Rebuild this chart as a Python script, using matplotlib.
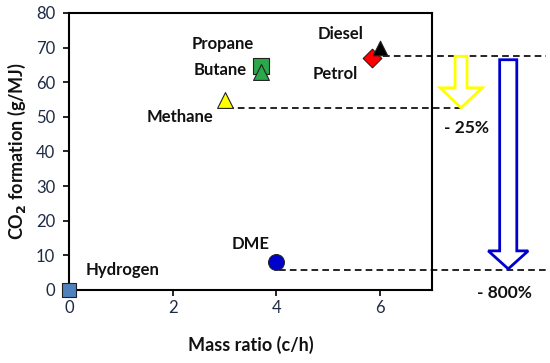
import matplotlib
matplotlib.use("Agg")
import matplotlib.pyplot as plt
from matplotlib.patches import FancyArrow

plt.rcParams['font.family'] = ['Lato', 'DejaVu Sans']

names = ['Hydrogen', 'DME', 'Methane', 'Propane', 'Butane', 'Petrol', 'Diesel']
mass_ratio = [0.0, 4.0, 3.0, 3.7, 3.7, 5.85, 6.0]
co2 = [0.0, 8.0, 54.8, 64.7, 63.0, 67.0, 69.8]
markers = ['s', 'o', '^', 's', '^', 'D', '^']
colors = ['#4f81bd', '#0000cc', '#ffff00', '#2aa84a', '#2aa84a', '#ff0000', '#000000']
sizes = [110, 130, 130, 130, 130, 90, 110]
label_pos = [(0.33, 5.8), (3.13, 13.3), (1.5, 50.0), (2.37, 71.1), (2.4, 63.6), (4.69, 62.4), (4.79, 74.0)]

ref_levels = [67.5, 52.6, 5.8]
ref_starts = [6.05, 3.05, 4.05]
ref_ends = [9.2, 7.6, 9.25]

fig = plt.figure(figsize=(5.5, 3.63), dpi=100)
ax = fig.add_axes([69/550, 1-290/363, (432-69)/550, (290-13)/363])
ax.set_xlim(0, 7)
ax.set_ylim(0, 80)

for y0, xs, xe in zip(ref_levels, ref_starts, ref_ends):
    ax.plot([xs, xe], [y0, y0], ls=(0, (4, 2.5)), color='black', lw=1.2, clip_on=False, zorder=2)

for n, x, y, m, c, s, lp in zip(names, mass_ratio, co2, markers, colors, sizes, label_pos):
    ax.scatter([x], [y], marker=m, s=s, color=c, edgecolor='#222222', linewidth=0.8, clip_on=False, zorder=5)
    ax.text(lp[0], lp[1], n, fontsize=12, fontweight='bold', color='#111111', ha='left', va='center')

# hollow arrows
ya = FancyArrow(7.56, 67.5, 0, -(67.5 - 52.6), width=0.23, head_width=0.81,
                head_length=5.8, length_includes_head=True, facecolor='white', edgecolor='#ffff00',
                linewidth=2.0, clip_on=False, zorder=4)
ax.add_patch(ya)
ba = FancyArrow(8.47, 66.5, 0, -(66.5 - 6.1), width=0.33, head_width=0.77,
                head_length=5.2, length_includes_head=True, facecolor='white', edgecolor='#0000cc',
                linewidth=2.0, clip_on=False, zorder=4)
ax.add_patch(ba)

ax.text(7.23, 46.8, '- 25%', fontsize=12.5, fontweight='bold', color='#111111', ha='left', va='center')
ax.text(7.87, -0.9, '- 800%', fontsize=12.5, fontweight='bold', color='#111111', ha='left', va='center')

ax.set_xticks([0, 2, 4, 6])
ax.set_yticks(range(0, 81, 10))
ax.tick_params(direction='out', length=4, width=1.2, labelsize=12, colors='black', labelcolor='#1f2a44')
ax.tick_params(axis='y', pad=6)
for sp in ax.spines.values():
    sp.set_linewidth(1.5)
    sp.set_color('black')

ax.set_xlabel('Mass ratio (c/h)', fontsize=13, fontweight='bold', color='#111111', labelpad=14)
ax.set_ylabel('CO$_\\mathbf{2}$ formation (g/MJ)', fontsize=13, fontweight='bold', color='#111111', labelpad=6)

fig.savefig('out.png', dpi=100)
